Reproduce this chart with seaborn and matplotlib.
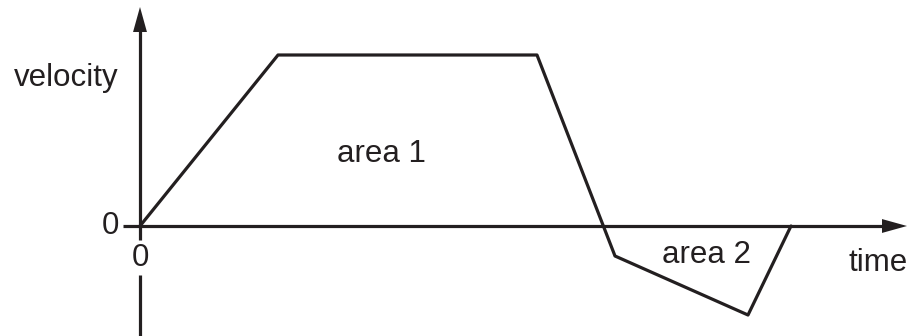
import matplotlib
matplotlib.use("Agg")
import matplotlib.pyplot as plt
import seaborn as sns
import pandas as pd

# velocity profile (arbitrary units)
time = [0.0, 1.38, 3.97, 4.75, 6.08, 6.51]
velocity = [0.0, 1.71, 1.71, -0.30, -0.89, 0.0]
area_labels = ["area 1", "area 2"]
area_pos = [(2.41, 0.72), (5.67, -0.29)]

sns.set_theme(style="white")
plt.rcParams["font.family"] = ["Liberation Sans", "DejaVu Sans"]

ink = "#231f20"
fig = plt.figure(figsize=(9.12, 3.36), dpi=100)
ax = fig.add_axes([0, 0, 1, 1])
ax.set_xlim(-1.40, 7.72)
ax.set_ylim(-1.10, 2.26)
ax.axis("off")

df = pd.DataFrame({"time": time, "velocity": velocity})
sns.lineplot(data=df, x="time", y="velocity", sort=False, color=ink,
             linewidth=2.3, ax=ax, zorder=3)

# axes with arrow heads
ax.plot([-0.17, 7.45], [0, 0], color=ink, lw=2.3, solid_capstyle="butt")
ax.plot([0, 0], [-1.10, -0.49], color=ink, lw=2.3, solid_capstyle="butt")
ax.plot([0, 0], [-0.14, 1.95], color=ink, lw=2.3, solid_capstyle="butt")
head = dict(facecolor=ink, edgecolor=ink, width=0.1, headwidth=10,
            headlength=18, shrink=0, linewidth=0)
ax.annotate("", xy=(7.67, 0), xytext=(7.40, 0), arrowprops=head)
ax.annotate("", xy=(0, 2.19), xytext=(0, 1.90), arrowprops=head)

fs = 22.5
ax.text(-0.30, 0, "0", ha="center", va="center", fontsize=fs, color=ink)
ax.text(0, -0.32, "0", ha="center", va="center", fontsize=fs, color=ink)
ax.text(-0.74, 1.48, "velocity", ha="center", va="center", fontsize=fs, color=ink)
ax.text(7.38, -0.37, "time", ha="center", va="center", fontsize=fs, color=ink)
for lab, (x, y) in zip(area_labels, area_pos):
    ax.text(x, y, lab, ha="center", va="center", fontsize=fs, color=ink)

fig.savefig("out.png", dpi=100, facecolor="white")
